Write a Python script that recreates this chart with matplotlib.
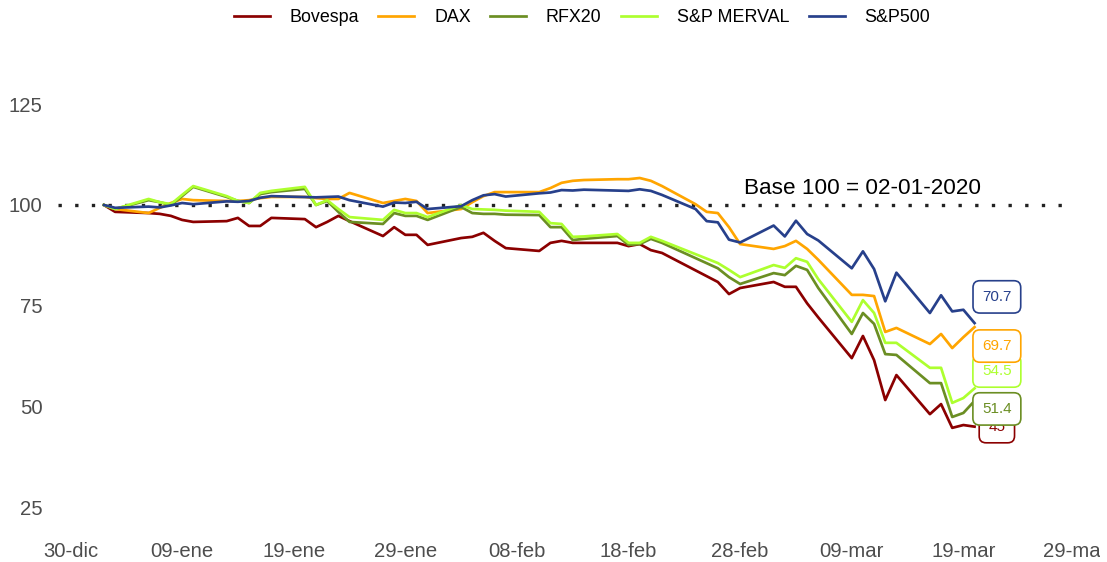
import numpy as np
import pandas as pd
import matplotlib
matplotlib.use("Agg")
import matplotlib.pyplot as plt
from matplotlib.transforms import Bbox, TransformedBbox

plt.rcParams["font.family"] = ["Liberation Sans", "DejaVu Sans"]

# ----------------------------
# Data (base 100 = 02-01-2020)
# ----------------------------
dates = [
    "2020-01-02", "2020-01-03", "2020-01-06", "2020-01-07", "2020-01-08", "2020-01-09", "2020-01-10",
    "2020-01-13", "2020-01-14", "2020-01-15", "2020-01-16", "2020-01-17",
    "2020-01-20", "2020-01-21", "2020-01-22", "2020-01-23", "2020-01-24",
    "2020-01-27", "2020-01-28", "2020-01-29", "2020-01-30", "2020-01-31",
    "2020-02-03", "2020-02-04", "2020-02-05", "2020-02-06", "2020-02-07",
    "2020-02-10", "2020-02-11", "2020-02-12", "2020-02-13", "2020-02-14",
    "2020-02-17", "2020-02-18", "2020-02-19", "2020-02-20", "2020-02-21",
    "2020-02-24", "2020-02-25", "2020-02-26", "2020-02-27", "2020-02-28",
    "2020-03-02", "2020-03-03", "2020-03-04", "2020-03-05", "2020-03-06",
    "2020-03-09", "2020-03-10", "2020-03-11", "2020-03-12", "2020-03-13",
    "2020-03-16", "2020-03-17", "2020-03-18", "2020-03-19", "2020-03-20",
]

bovespa = [
    100.0, 98.3, 98.0, 97.8, 97.3, 96.3, 95.8,
    96.0, 96.8, 94.8, 94.8, 96.8,
    96.5, 94.5, 95.8, 97.3, 96.0,
    92.3, 94.5, 92.6, 92.6, 90.1,
    91.8, 92.1, 93.1, 91.1, 89.3,
    88.6, 90.6, 91.1, 90.6, 90.6,
    90.6, 89.8, 90.3, 88.8, 88.1,
    None, None, 80.9, 77.9, 79.4,
    80.9, 79.7, 79.7, 75.6, 72.1,
    62.0, 67.5, 61.5, 51.6, 57.8,
    48.1, 50.6, 44.7, 45.4, 45.0,
]

dax = [
    100.0, 99.0, 98.0, 99.3, 100.5, 101.5, 101.2,
    101.0, 101.0, 101.2, 101.7, 102.0,
    102.0, 101.7, 101.5, 101.5, 103.0,
    100.5, 101.0, 101.5, 101.0, 98.0,
    99.0, 100.7, 102.2, 103.2, 103.2,
    103.2, 104.2, 105.5, 106.0, 106.2,
    106.4, 106.4, 106.7, 106.0, 104.7,
    100.2, 98.3, 98.0, 94.5, 90.3,
    89.1, 89.8, 91.1, 89.1, 86.4,
    77.7, 77.7, 77.4, 68.5, 69.5,
    65.5, 68.0, 64.5, 67.2, 69.7,
]

rfx20 = [
    100.0, 99.0, 101.2, 100.7, 100.0, 102.2, 104.5,
    102.0, 101.0, 100.5, 102.7, 103.2,
    104.0, 100.0, 101.0, 98.3, 95.8,
    95.3, 98.0, 97.3, 97.3, 96.3,
    99.5, 98.0, 97.8, 97.8, 97.6,
    97.5, 94.5, 94.5, 91.3, 91.6,
    92.3, 90.1, 90.3, 91.6, 90.6,
    None, None, 84.3, 82.1, 80.4,
    83.1, 82.6, 84.9, 83.9, 79.4,
    68.0, 73.2, 70.5, 63.0, 62.8,
    55.8, 55.8, 47.4, 48.4, 51.4,
]

merval = [
    100.0, 99.0, 101.5, 100.7, 100.2, 102.5, 104.7,
    102.2, 101.0, 100.5, 103.0, 103.5,
    104.5, 100.0, 101.2, 99.0, 97.0,
    96.3, 98.8, 98.0, 98.0, 97.0,
    100.0, 99.0, 98.9, 98.8, 98.6,
    98.3, 95.5, 95.3, 92.1, 92.2,
    92.8, 90.6, 90.6, 92.1, 91.1,
    None, None, 85.6, 83.9, 82.1,
    85.1, 84.4, 86.8, 85.9, 81.6,
    71.0, 76.4, 73.2, 65.8, 65.8,
    59.6, 59.6, 50.9, 52.1, 54.5,
]

sp500 = [
    100.0, 99.3, 99.6, 99.4, 99.9, 100.5, 100.2,
    100.9, 100.8, 101.0, 101.8, 102.2,
    None, 101.9, 102.0, 102.1, 101.2,
    99.6, 100.6, 100.5, 100.8, 99.0,
    99.7, 101.2, 102.4, 102.7, 102.1,
    102.9, 103.1, 103.7, 103.6, 103.8,
    None, 103.5, 103.9, 103.5, 102.5,
    99.0, 96.0, 95.7, 91.4, 90.7,
    94.9, 92.2, 96.1, 92.8, 91.2,
    84.3, 88.5, 84.1, 76.1, 83.2,
    73.2, 77.6, 73.6, 74.0, 70.7,
]

names = ["Bovespa", "DAX", "RFX20", "S&P MERVAL", "S&P500"]
colors = ["#8B0000", "#FFA500", "#6B8E23", "#ADFF2F", "#27408B"]

tick_dates = ["2019-12-30", "2020-01-09", "2020-01-19", "2020-01-29", "2020-02-08",
              "2020-02-18", "2020-02-28", "2020-03-09", "2020-03-19", "2020-03-29"]
tick_labels = ["30-dic", "09-ene", "19-ene", "29-ene", "08-feb",
               "18-feb", "28-feb", "09-mar", "19-mar", "29-mar"]

# end label layout (repelled y position of each box)
label_y = [45.0, 65.0, 49.4, 58.8, 77.2]

# ----------------------------
# Plot
# ----------------------------
df = pd.DataFrame(
    {"Bovespa": bovespa, "DAX": dax, "RFX20": rfx20, "S&P MERVAL": merval, "S&P500": sp500},
    index=pd.to_datetime(dates),
).astype(float)

W, H = 1107, 562
fig = plt.figure(figsize=(W / 100, H / 100), dpi=100)
left_px, right_px, top_px, bottom_px = 58, 1075, 40, 532
ax = fig.add_axes([left_px / W, 1 - bottom_px / H, (right_px - left_px) / W, (bottom_px - top_px) / H])

base_day = pd.Timestamp("2019-12-30")
px_per_day = 11.2
x0_px = 70.5
ax.set_xlim(base_day + pd.Timedelta(days=(left_px - x0_px) / px_per_day),
            base_day + pd.Timedelta(days=(right_px - x0_px) / px_per_day))
px_per_unit = 4.03
ax.set_ylim(100 - (bottom_px - 205) / px_per_unit, 100 + (205 - top_px) / px_per_unit)

ax.axhline(100, color="#222222", linestyle=(0, (1, 4)), linewidth=2.4, zorder=1)

for name, col in zip(names, colors):
    s = df[name].dropna()
    ax.plot(s.index, s.values, color=col, linewidth=1.95, label=name, zorder=2)

# end labels, drawn in order of value
label_x = pd.Timestamp("2020-03-22")
order = list(np.argsort([df[n].iloc[-1] for n in names]))
for i in order:
    v = df[names[i]].iloc[-1]
    ax.text(label_x, label_y[i], f"{v:g}", color=colors[i], fontsize=11,
            ha="center", va="center", zorder=5 + order.index(i),
            bbox=dict(boxstyle="round,pad=0.6,rounding_size=0.45", fc="white",
                      ec=colors[i], lw=1.2))

ax.text(base_day + pd.Timedelta(days=71.0), 104.2, "Base 100 = 02-01-2020",
        fontsize=16.2, ha="center", va="center", color="black")

ax.set_xticks(pd.to_datetime(tick_dates))
ax.set_xticklabels(tick_labels)
ax.set_yticks([25, 50, 75, 100, 125])
ax.tick_params(axis="both", length=0, labelsize=14.6, colors="#4D4D4D")
ax.tick_params(axis="y", pad=11)
ax.tick_params(axis="x", pad=7)
for sp in ax.spines.values():
    sp.set_visible(False)
ax.grid(False)

# the last date label is cut by the plot edge, as in the original
clip = TransformedBbox(Bbox([[0, 0], [1100 / W, 1]]), fig.transFigure)
for lab in ax.get_xticklabels():
    lab.set_clip_on(True)
    lab.set_clip_box(clip)

fig.legend(loc="center", bbox_to_anchor=(582 / W, 1 - 18 / H), ncol=5, frameon=False,
           fontsize=12.9, handlelength=2.0, handletextpad=1.1, columnspacing=1.1)

fig.savefig("out.png", dpi=100)
